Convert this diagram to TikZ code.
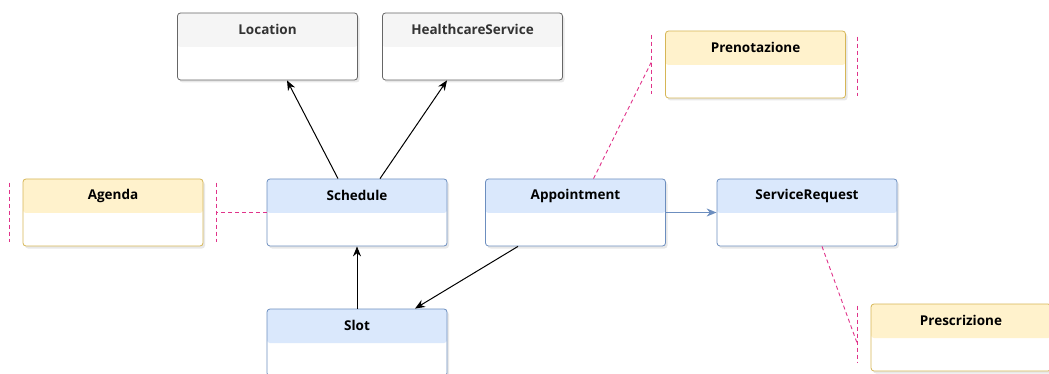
\documentclass[tikz,border=0pt]{standalone}
\usepackage{fontspec}
\setmainfont{Open Sans}
\usetikzlibrary{arrows.meta, shadows}

\tikzset{
    classbox/.style={draw=#1Border, fill=white, rounded corners=3pt, line width=0.8pt,
        minimum width=180pt, minimum height=67pt, inner sep=0pt,
        drop shadow={opacity=0.18, shadow xshift=2pt, shadow yshift=-2.5pt},
        path picture={\fill[#1Header] (path picture bounding box.north west)
            rectangle ([yshift=-34pt]path picture bounding box.north east);}},
    title/.style={anchor=center, yshift=-17pt, font=\bfseries\fontsize{13.5}{15}\selectfont},
    noteline/.style={draw=noteColour, dash pattern=on 4pt off 3pt, line width=0.9pt},
    link/.style={-{Stealth[length=10pt,width=8pt]}, line width=1pt}
}

\begin{document}
\begin{tikzpicture}[x=1pt, y=-1pt]
    % Define colours
    \definecolor{blueHeader}{HTML}{DAE8FC}
    \definecolor{blueBorder}{HTML}{6C8EBF}
    \definecolor{yellowHeader}{HTML}{FFF2CC}
    \definecolor{yellowBorder}{HTML}{D6B656}
    \definecolor{grayHeader}{HTML}{F5F5F5}
    \definecolor{grayBorder}{HTML}{666666}
    \definecolor{grayText}{HTML}{333333}
    \definecolor{noteColour}{HTML}{E0338A}

    % Fix the picture size
    \useasboundingbox (0,0) rectangle (1049,374);

    % Draw resources
    \node[classbox=gray, label={[title, text=grayText]north:Location}] (location) at (267.5,46.5) {};
    \node[classbox=gray, label={[title, text=grayText]north:HealthcareService}] (service) at (472.5,46.5) {};
    \node[classbox=blue, label={[title]north:Schedule}] (schedule) at (357,212.5) {};
    \node[classbox=blue, label={[title]north:Appointment}] (appointment) at (575.5,212.5) {};
    \node[classbox=blue, label={[title]north:ServiceRequest}] (request) at (807,212.5) {};
    \node[classbox=blue, label={[title]north:Slot}] (slot) at (357,342.5) {};

    % Draw notes
    \node[classbox=yellow, label={[title]north:Agenda}] (agenda) at (113,212.5) {};
    \node[classbox=yellow, label={[title]north:Prenotazione}] (booking) at (755.5,64.5) {};
    \node[classbox=yellow, label={[title]north:Prescrizione}] (prescription) at (961,337.5) {};

    % Note brackets
    \draw[noteline] ([xshift=-13pt, yshift=-4pt]agenda.north west) -- ([xshift=-13pt, yshift=4pt]agenda.south west);
    \draw[noteline] ([xshift=13pt, yshift=-4pt]agenda.north east) -- ([xshift=13pt, yshift=4pt]agenda.south east);
    \draw[noteline] ([xshift=-14pt, yshift=-4pt]booking.north west) -- ([xshift=-14pt, yshift=4pt]booking.south west);
    \draw[noteline] ([xshift=12pt, yshift=-6pt]booking.north east) -- ([xshift=12pt, yshift=2pt]booking.south east);
    \draw[noteline] ([xshift=-13pt, yshift=-2pt]prescription.north west) -- ([xshift=-13pt, yshift=8pt]prescription.south west);

    % Note links
    \coordinate (agendaEnd) at ([xshift=13pt]agenda.east);
    \coordinate (bookingEnd) at ([xshift=-14pt, yshift=2pt]booking.west);
    \coordinate (prescriptionEnd) at ([xshift=-13pt, yshift=-7pt]prescription.west);
    \draw[noteline] (schedule.west) -- (agendaEnd);
    \draw[noteline] ([xshift=18pt]appointment.north) -- (bookingEnd);
    \draw[noteline] ([xshift=15pt]request.south) -- (prescriptionEnd);

    % Draw references
    \draw[link] ([xshift=-19pt]schedule.north) -- ([xshift=19.5pt]location.south);
    \draw[link] ([xshift=23pt]schedule.north) -- ([xshift=-25.5pt]service.south);
    \draw[link] (slot.north) -- (schedule.south);
    \draw[link] ([xshift=-57.5pt]appointment.south) -- ([xshift=58pt]slot.north);
    \draw[link, draw=blueBorder, line width=1.2pt] (appointment.east) -- (request.west);

\end{tikzpicture}
\end{document}
